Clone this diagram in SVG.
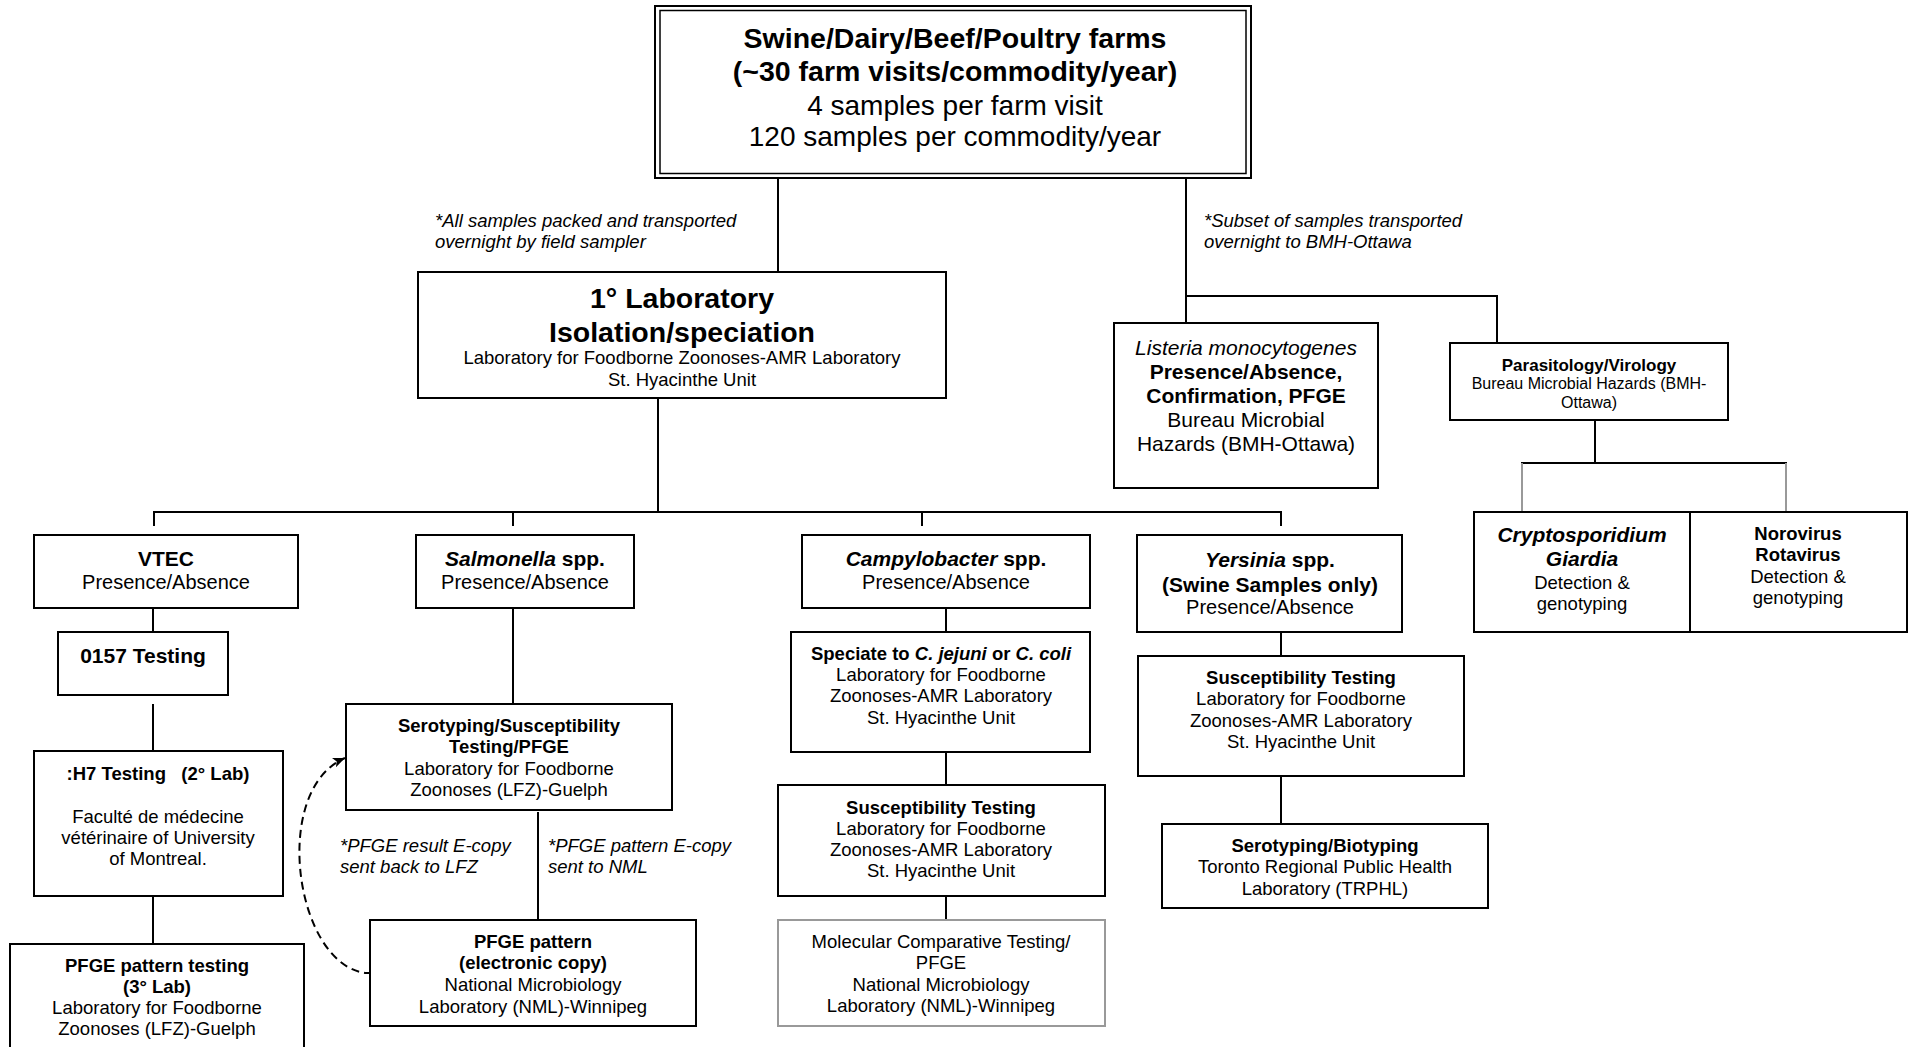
<svg xmlns="http://www.w3.org/2000/svg" width="1915" height="1047" viewBox="0 0 1915 1047">
<style>
text{font-family:"Liberation Sans",Arial,Helvetica,sans-serif;fill:#000;text-anchor:middle}
.b{font-weight:bold}
.i{font-style:italic}
.l{text-anchor:start}
.box{fill:#fff;stroke:#000;stroke-width:2}
.gbox{fill:#fff;stroke:#999;stroke-width:2}
.ln{fill:none;stroke:#000;stroke-width:2}
.gl{fill:none;stroke:#999;stroke-width:2}
.f29{font-size:28.5px}.f28{font-size:28px}.f21{font-size:21px}.f20{font-size:20px}.f185{font-size:18.5px}.f17{font-size:17px}.f16{font-size:16px}
</style>
<defs>
<marker id="ah" markerUnits="userSpaceOnUse" markerWidth="14" markerHeight="12" refX="12" refY="5" orient="auto">
<path d="M0,0 L12,5 L0,10 L3,5 z" fill="#000"/>
</marker>
</defs>
<rect width="1915" height="1047" fill="#fff"/>
<g id="connectors">
<path class="ln" d="M778,179 V272"/>
<path class="ln" d="M1186,179 V323"/>
<path class="ln" d="M1186,296 H1497 V343"/>
<path class="ln" d="M1595,420 V463 M1521,463 H1787"/>
<path class="gl" d="M1522,463 V512 M1786,463 V512"/>
<path class="ln" d="M658,398 V512 M153,512 H1282 M154,512 V526 M513,512 V526 M922,512 V526 M1281,512 V526"/>
<path class="ln" d="M153,608 V632 M153,704 V751 M153,896 V944"/>
<path class="ln" d="M513,608 V704 M538,812 V920"/>
<path class="ln" d="M946,608 V632 M946,752 V785 M946,896 V920"/>
<path class="ln" d="M1281,632 V656 M1281,776 V824"/>
<path fill="none" stroke="#000" stroke-width="2" stroke-dasharray="8,5" marker-end="url(#ah)" d="M372,973 H366 C295,965 270,790 345,758"/>
<text class="i f185 l" x="435" y="226.5">*All samples packed and transported</text>
<text class="i f185 l" x="435" y="247.5">overnight by field sampler</text>
<text class="i f185 l" x="1204" y="226.5">*Subset of samples transported</text>
<text class="i f185 l" x="1204" y="247.5">overnight to BMH-Ottawa</text>
<text class="i f185 l" x="340" y="851.5">*PFGE result E-copy</text>
<text class="i f185 l" x="340" y="872.5">sent back to LFZ</text>
<text class="i f185 l" x="548" y="851.5">*PFGE pattern E-copy</text>
<text class="i f185 l" x="548" y="872.5">sent to NML</text>
</g>
<g id="farms">
<rect class="box" x="655" y="6" width="596" height="172" stroke-width="2.5"/>
<rect fill="none" stroke="#000" stroke-width="1.5" x="660" y="10.5" width="586" height="163"/>
<text class="b f29" x="955" y="48">Swine/Dairy/Beef/Poultry farms</text>
<text class="b f29" x="955" y="81">(~30 farm visits/commodity/year)</text>
<text class="f28" x="955" y="115">4 samples per farm visit</text>
<text class="f28" x="955" y="146">120 samples per commodity/year</text>
</g>
<g id="lab1">
<rect class="box" x="418" y="272" width="528" height="126"/>
<text class="b f29" x="682" y="308">1° Laboratory</text>
<text class="b f29" x="682" y="342">Isolation/speciation</text>
<text class="f185" x="682" y="363.5">Laboratory for Foodborne Zoonoses-AMR Laboratory</text>
<text class="f185" x="682" y="385.5">St. Hyacinthe Unit</text>
</g>
<g id="listeria">
<rect class="box" x="1114" y="323" width="264" height="165"/>
<text class="i f21" x="1246" y="355">Listeria monocytogenes</text>
<text class="b f21" x="1246" y="379">Presence/Absence,</text>
<text class="b f21" x="1246" y="403">Confirmation, PFGE</text>
<text class="f21" x="1246" y="427">Bureau Microbial</text>
<text class="f21" x="1246" y="451">Hazards (BMH-Ottawa)</text>
</g>
<g id="parasitology">
<rect class="box" x="1450" y="343" width="278" height="77"/>
<text class="b f17" x="1589" y="371">Parasitology/Virology</text>
<text class="f16" x="1589" y="389">Bureau Microbial Hazards (BMH-</text>
<text class="f16" x="1589" y="408">Ottawa)</text>
</g>
<g id="crypto">
<rect class="box" x="1474" y="512" width="216" height="120"/>
<text class="b i f21" x="1582" y="541.5">Cryptosporidium</text>
<text class="b i f21" x="1582" y="566">Giardia</text>
<text class="f185" x="1582" y="588.5">Detection &amp;</text>
<text class="f185" x="1582" y="610">genotyping</text>
</g>
<g id="noro">
<rect class="box" x="1690" y="512" width="217" height="120"/>
<text class="b f185" x="1798" y="539.5">Norovirus</text>
<text class="b f185" x="1798" y="560.5">Rotavirus</text>
<text class="f185" x="1798" y="582.5">Detection &amp;</text>
<text class="f185" x="1798" y="603.5">genotyping</text>
</g>
<g id="vtec">
<rect class="box" x="34" y="535" width="264" height="73"/>
<text class="b f21" x="166" y="565.5">VTEC</text>
<text class="f20" x="166" y="589">Presence/Absence</text>
</g>
<g id="o157">
<rect class="box" x="58" y="632" width="170" height="63"/>
<text class="b f21" x="143" y="662.5">0157 Testing</text>
</g>
<g id="h7">
<rect class="box" x="34" y="751" width="249" height="145"/>
<text class="b f185" x="158" y="779.5">:H7 Testing&#160;&#160;&#160;(2° Lab)</text>
<text class="f185" x="158" y="822.5">Faculté de médecine</text>
<text class="f185" x="158" y="843.5">vétérinaire of University</text>
<text class="f185" x="158" y="864.5">of Montreal.</text>
</g>
<g id="pfge3">
<rect class="box" x="10" y="944" width="294" height="120"/>
<text class="b f185" x="157" y="972">PFGE pattern testing</text>
<text class="b f185" x="157" y="993">(3° Lab)</text>
<text class="f185" x="157" y="1014">Laboratory for Foodborne</text>
<text class="f185" x="157" y="1035">Zoonoses (LFZ)-Guelph</text>
</g>
<g id="salmonella">
<rect class="box" x="416" y="535" width="218" height="73"/>
<text class="b f21" x="525" y="565.5"><tspan class="i">Salmonella</tspan> spp.</text>
<text class="f20" x="525" y="589">Presence/Absence</text>
</g>
<g id="serotyping">
<rect class="box" x="346" y="704" width="326" height="106"/>
<text class="b f185" x="509" y="731.5">Serotyping/Susceptibility</text>
<text class="b f185" x="509" y="752.5">Testing/PFGE</text>
<text class="f185" x="509" y="774.5">Laboratory for Foodborne</text>
<text class="f185" x="509" y="795.5">Zoonoses (LFZ)-Guelph</text>
</g>
<g id="pfgeNML">
<rect class="box" x="370" y="920" width="326" height="106"/>
<text class="b f185" x="533" y="947.5">PFGE pattern</text>
<text class="b f185" x="533" y="969">(electronic copy)</text>
<text class="f185" x="533" y="991">National Microbiology</text>
<text class="f185" x="533" y="1012.5">Laboratory (NML)-Winnipeg</text>
</g>
<g id="campylobacter">
<rect class="box" x="802" y="535" width="288" height="73"/>
<text class="b f21" x="946" y="565.5"><tspan class="i">Campylobacter</tspan> spp.</text>
<text class="f20" x="946" y="589">Presence/Absence</text>
</g>
<g id="speciate">
<rect class="box" x="791" y="632" width="299" height="120"/>
<text class="b f185" x="941" y="659.5">Speciate to <tspan class="i">C. jejuni</tspan> or <tspan class="i">C. coli</tspan></text>
<text class="f185" x="941" y="680.5">Laboratory for Foodborne</text>
<text class="f185" x="941" y="702">Zoonoses-AMR Laboratory</text>
<text class="f185" x="941" y="723.5">St. Hyacinthe Unit</text>
</g>
<g id="campySusc">
<rect class="box" x="778" y="785" width="327" height="111"/>
<text class="b f185" x="941" y="813.5">Susceptibility Testing</text>
<text class="f185" x="941" y="834.5">Laboratory for Foodborne</text>
<text class="f185" x="941" y="856">Zoonoses-AMR Laboratory</text>
<text class="f185" x="941" y="876.5">St. Hyacinthe Unit</text>
</g>
<g id="molecular">
<rect class="gbox" x="778" y="920" width="327" height="106"/>
<text class="f185" x="941" y="947.5">Molecular Comparative Testing/</text>
<text class="f185" x="941" y="968.5">PFGE</text>
<text class="f185" x="941" y="990.5">National Microbiology</text>
<text class="f185" x="941" y="1011.5">Laboratory (NML)-Winnipeg</text>
</g>
<g id="yersinia">
<rect class="box" x="1137" y="535" width="265" height="97"/>
<text class="b f21" x="1270" y="566.5"><tspan class="i">Yersinia</tspan> spp.</text>
<text class="b f21" x="1270" y="591.5">(Swine Samples only)</text>
<text class="f20" x="1270" y="614">Presence/Absence</text>
</g>
<g id="yersSusc">
<rect class="box" x="1138" y="656" width="326" height="120"/>
<text class="b f185" x="1301" y="683.5">Susceptibility Testing</text>
<text class="f185" x="1301" y="704.5">Laboratory for Foodborne</text>
<text class="f185" x="1301" y="726.5">Zoonoses-AMR Laboratory</text>
<text class="f185" x="1301" y="747.5">St. Hyacinthe Unit</text>
</g>
<g id="biotyping">
<rect class="box" x="1162" y="824" width="326" height="84"/>
<text class="b f185" x="1325" y="851.5">Serotyping/Biotyping</text>
<text class="f185" x="1325" y="872.5">Toronto Regional Public Health</text>
<text class="f185" x="1325" y="894.5">Laboratory (TRPHL)</text>
</g>
</svg>
